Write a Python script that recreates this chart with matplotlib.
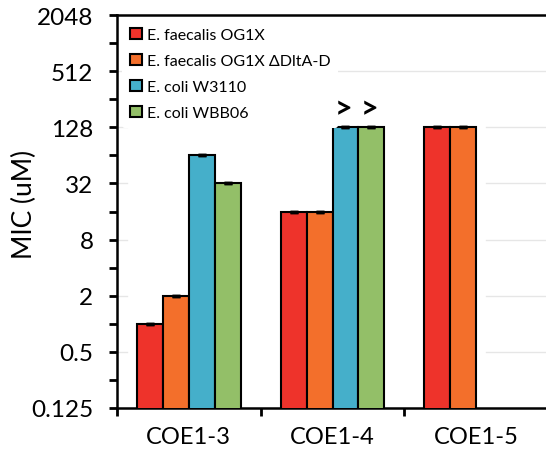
import numpy as np
import matplotlib
matplotlib.use("Agg")
import matplotlib.pyplot as plt
from matplotlib.patches import Patch

plt.rcParams['font.family'] = ['Lato', 'DejaVu Sans']

categories = ["COE1-3", "COE1-4", "COE1-5"]
series_names = ["E. faecalis OG1X", "E. faecalis OG1X \u0394DltA-D", "E. coli W3110", "E. coli WBB06"]
values = {
    "E. faecalis OG1X": [1, 16, 128],
    "E. faecalis OG1X \u0394DltA-D": [2, 16, 128],
    "E. coli W3110": [64, 128, np.nan],
    "E. coli WBB06": [32, 128, np.nan],
}
errors = {
    "E. faecalis OG1X": [0, 0, 0],
    "E. faecalis OG1X \u0394DltA-D": [0, 0, 0],
    "E. coli W3110": [0, 0, 0],
    "E. coli WBB06": [0, 0, 0],
}
colors = ["#EE332B", "#F36F2B", "#45AFCA", "#93BF68"]
yticks = [0.125, 0.5, 2, 8, 32, 128, 512, 2048]
ytick_labels = ["0.125", "0.5", "2", "8", "32", "128", "512", "2048"]
minor_yticks = [0.25, 1, 4, 16, 64, 256, 1024]
greater_marks = [("COE1-4", "E. coli W3110"), ("COE1-4", "E. coli WBB06")]

fig = plt.figure(figsize=(5.46, 4.52), dpi=100)
ax = fig.add_axes([117/546, 1 - 409/452, 431/546, (409 - 16)/452])

x = np.arange(len(categories))
bw = 0.18
for i, name in enumerate(series_names):
    pos = x + (i - 1.5) * bw
    vals = np.array(values[name], dtype=float)
    ax.bar(pos, vals, width=bw, color=colors[i], edgecolor="black",
           linewidth=1.5, zorder=3)
    m = ~np.isnan(vals)
    ax.errorbar(pos[m], vals[m], yerr=np.array(errors[name])[m], fmt="none",
                ecolor="black", capsize=3.2, capthick=2.5, elinewidth=1.5, zorder=4)

for cat, name in greater_marks:
    ci = categories.index(cat)
    si = series_names.index(name)
    ax.text(x[ci] + (si - 1.5) * bw - 0.01, 205, ">", ha="center", va="center",
            fontsize=22, fontweight="bold", zorder=5)

ax.set_yscale("log", base=2)
ax.set_ylim(0.125, 2048)
ax.set_xlim(-0.5, 2.5)
ax.set_yticks(yticks)
ax.set_yticklabels(ytick_labels)
ax.set_yticks(minor_yticks, minor=True)
ax.yaxis.set_minor_formatter(matplotlib.ticker.NullFormatter())

# gridlines (visible only at plot edges in the reference)
for yv in yticks[1:-2]:
    ax.axhline(yv, xmin=0.0, xmax=0.023, color="#E6E6E6", lw=1, zorder=1)
    ax.axhline(yv, xmin=0.856, xmax=1.0, color="#E6E6E6", lw=1, zorder=1)
ax.axhline(512, color="#E6E6E6", lw=1, zorder=1)

ax.set_xticks(x)
ax.set_xticklabels(categories, fontsize=17)
ax.set_xticks(np.arange(-0.5, 3.0, 1.0), minor=True)
ax.tick_params(axis="x", which="major", length=0, pad=13)
ax.tick_params(axis="x", which="minor", length=6, width=2, direction="out")
ax.tick_params(axis="y", which="both", length=6, width=2, direction="out",
               labelsize=17.5, pad=11)

for s in ax.spines.values():
    s.set_linewidth(1.8)

ax.set_ylabel("MIC (uM)", fontsize=19)
ax.yaxis.set_label_coords(-0.186, 0.52)

handles = [Patch(facecolor=colors[i], edgecolor="black", linewidth=1.5) for i in range(4)]
leg = ax.legend(handles, series_names, loc="upper left", bbox_to_anchor=(0.0, 1.0),
                fontsize=11.5, frameon=True, handlelength=0.75, handleheight=0.75,
                handletextpad=0.3, labelspacing=0.72, borderpad=0.5, borderaxespad=0.3)
leg.get_frame().set_edgecolor("none")
leg.get_frame().set_facecolor("white")
leg.get_frame().set_alpha(1)
leg.set_zorder(6)

fig.savefig("out.png", dpi=100)
